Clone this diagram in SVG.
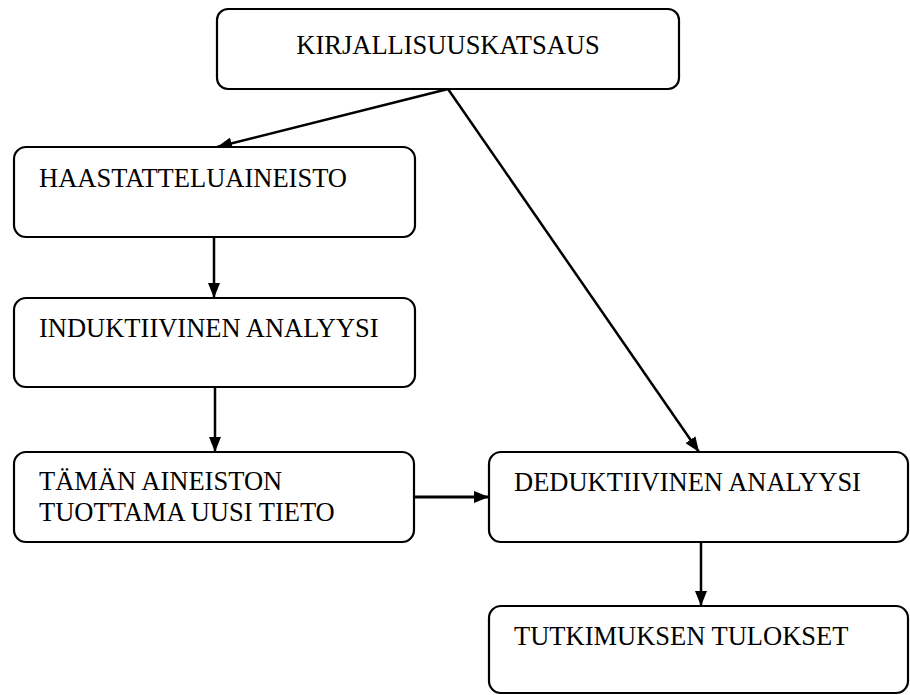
<svg xmlns="http://www.w3.org/2000/svg" width="910" height="695" viewBox="0 0 910 695">
<style>
.box{fill:#fff;stroke:#000;stroke-width:2.2}
.t{font-family:"Liberation Serif","Times New Roman",serif;font-size:26.5px;fill:#000}
.c{stroke:#000;stroke-width:2.5;fill:none;marker-end:url(#ah)}
</style>
<defs>
<marker id="ah" viewBox="0 0 15 12" refX="15" refY="6" markerWidth="15" markerHeight="12" markerUnits="userSpaceOnUse" orient="auto">
<path d="M0,0 L15,6 L0,12 Z" fill="#000"/>
</marker>
</defs>
<rect width="910" height="695" fill="#fff"/>
<g id="connectors">
<line class="c" x1="448" y1="89" x2="217" y2="147"/>
<line class="c" x1="448" y1="89" x2="699" y2="452"/>
<line class="c" x1="214" y1="237" x2="214" y2="298"/>
<line class="c" x1="215" y1="387" x2="215" y2="452"/>
<line class="c" x1="414" y1="497" x2="489" y2="497" style="stroke-width:3"/>
<line class="c" x1="701" y1="542" x2="701" y2="606"/>
</g>
<g id="n1"><rect class="box" x="217" y="9" width="462" height="80" rx="11"/><text class="t" x="448" y="54" text-anchor="middle">KIRJALLISUUSKATSAUS</text></g>
<g id="n2"><rect class="box" x="14" y="147" width="401" height="90" rx="12"/><text class="t" x="39" y="187">HAASTATTELUAINEISTO</text></g>
<g id="n3"><rect class="box" x="14" y="298" width="401" height="89" rx="12"/><text class="t" x="39" y="337">INDUKTIIVINEN ANALYYSI</text></g>
<g id="n4"><rect class="box" x="14" y="452" width="400" height="90" rx="12"/><text class="t" x="39" y="490">TÄMÄN AINEISTON</text><text class="t" x="39" y="521">TUOTTAMA UUSI TIETO</text></g>
<g id="n5"><rect class="box" x="489" y="452" width="419" height="90" rx="12"/><text class="t" x="514" y="491">DEDUKTIIVINEN ANALYYSI</text></g>
<g id="n6"><rect class="box" x="489" y="606" width="419" height="87" rx="12"/><text class="t" x="514" y="645">TUTKIMUKSEN TULOKSET</text></g>
</svg>
